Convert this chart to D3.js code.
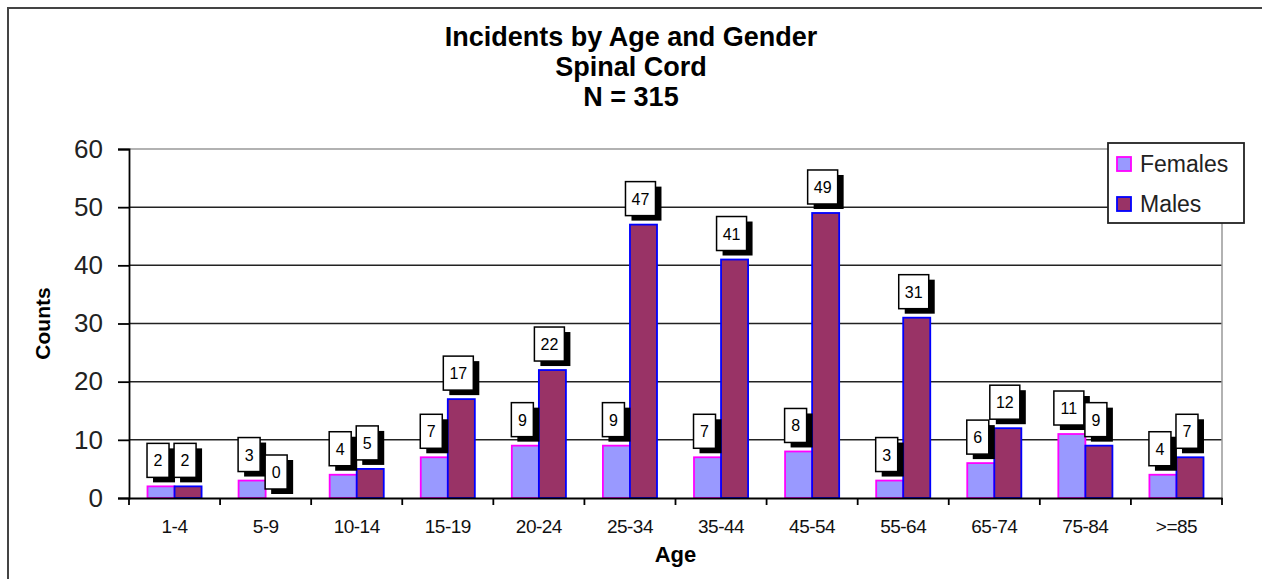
<!DOCTYPE html>
<html>
<head>
<meta charset="utf-8">
<script src="https://cdn.jsdelivr.net/npm/d3@7"></script>
<style>
  body { margin: 0; background: #fff; }
  svg { display: block; font-family: "Liberation Sans", Arial, sans-serif; }
</style>
</head>
<body>
<div id="chart"></div>
<script>
// data
const ageGroups = ["1-4", "5-9", "10-14", "15-19", "20-24", "25-34", "35-44", "45-54", "55-64", "65-74", "75-84", ">=85"];
const females = [2, 3, 4, 7, 9, 9, 7, 8, 3, 6, 11, 4];
const males = [2, 0, 5, 17, 22, 47, 41, 49, 31, 12, 9, 7];
const series = ["Females", "Males"];
const titleLines = ["Incidents by Age and Gender", "Spinal Cord", "N = 315"];
const yTicks = [0, 10, 20, 30, 40, 50, 60];

const W = 1262, H = 579;
const plot = { left: 129, right: 1222, top: 149, bottom: 498 };

const svg = d3.select("#chart").append("svg")
  .attr("width", W)
  .attr("height", H);

// outer chart border (only top and left are visible in the picture)
svg.append("path")
  .attr("d", `M8,${H + 5}V8H${W + 5}`)
  .attr("fill", "none")
  .attr("stroke", "#444")
  .attr("stroke-width", 2);

// title
svg.append("g").selectAll("text")
  .data(titleLines)
  .join("text")
  .attr("x", W / 2)
  .attr("y", (d, i) => 46 + i * 30)
  .attr("text-anchor", "middle")
  .attr("font-weight", "bold")
  .attr("font-size", 27)
  .text(d => d);

// scales
const x = d3.scaleBand().domain(ageGroups).range([plot.left, plot.right]);
const xSub = d3.scaleBand().domain(series).range([18.5, x.bandwidth() - 18.5]);
const y = d3.scaleLinear().domain([0, 60]).range([plot.bottom, plot.top]);
const colors = { Females: "#9999ff", Males: "#993366" };
const strokes = { Females: "#ff00ff", Males: "#0000ff" };

// gridlines
svg.append("g").selectAll("line")
  .data(yTicks.filter(d => d > 0 && d < 60))
  .join("line")
  .attr("x1", plot.left).attr("x2", plot.right)
  .attr("y1", d => y(d)).attr("y2", d => y(d))
  .attr("stroke", "#222")
  .attr("stroke-width", 1.5);

// plot area border top/right (gray)
svg.append("path")
  .attr("d", `M${plot.left},${y(60)}H${plot.right}V${plot.bottom}`)
  .attr("fill", "none")
  .attr("stroke", "#999")
  .attr("stroke-width", 1.5);

// bars
const rows = ageGroups.map((g, i) => ({ group: g, values: [
  { key: "Females", value: females[i] },
  { key: "Males", value: males[i] }
]}));

const groups = svg.append("g").selectAll("g")
  .data(rows)
  .join("g")
  .attr("transform", d => `translate(${x(d.group)},0)`);

groups.selectAll("rect.bar")
  .data(d => d.values.filter(v => v.value > 0))
  .join("rect")
  .attr("class", "bar")
  .attr("x", d => xSub(d.key))
  .attr("y", d => y(d.value))
  .attr("width", xSub.bandwidth())
  .attr("height", d => y(0) - y(d.value))
  .attr("fill", d => colors[d.key])
  .attr("stroke", d => strokes[d.key])
  .attr("stroke-width", 1.8);

// value labels: white boxes with a black drop shadow
const labels = groups.selectAll("g.lbl")
  .data(d => d.values)
  .join("g")
  .attr("class", "lbl")
  .attr("transform", d => {
    const cx = xSub(d.key) + xSub.bandwidth() / 2 - 3;
    return `translate(${cx},${y(d.value) - 9})`;
  });

const boxW = d => (String(d.value).length > 1 ? 30 : 22);
const boxH = 34;

labels.append("rect")
  .attr("x", d => -boxW(d) / 2 + 6)
  .attr("y", -boxH + 5)
  .attr("width", boxW)
  .attr("height", boxH)
  .attr("fill", "#000");

labels.append("rect")
  .attr("x", d => -boxW(d) / 2)
  .attr("y", -boxH)
  .attr("width", boxW)
  .attr("height", boxH)
  .attr("fill", "#fff")
  .attr("stroke", "#000")
  .attr("stroke-width", 1.5);

labels.append("text")
  .attr("x", 0)
  .attr("y", -boxH / 2 + 6)
  .attr("text-anchor", "middle")
  .attr("font-size", 16)
  .text(d => d.value);

// y axis
const yAxis = svg.append("g")
  .attr("transform", `translate(${plot.left},0)`)
  .call(d3.axisLeft(y).tickValues(yTicks).tickSize(11).tickPadding(15));
yAxis.select(".domain").attr("stroke", "#000").attr("stroke-width", 1.8);
yAxis.selectAll(".tick line").attr("stroke", "#000").attr("stroke-width", 1.8);
yAxis.selectAll(".tick text")
  .attr("font-size", 26)
  .attr("font-family", "\"Liberation Sans\", Arial, sans-serif")
  .attr("fill", "#222");

// x axis: labels centered in bands, tick marks at band boundaries
const xAxis = svg.append("g")
  .attr("transform", `translate(0,${plot.bottom})`)
  .call(d3.axisBottom(x).tickSize(0).tickPadding(22));
xAxis.select(".domain").attr("stroke", "#000").attr("stroke-width", 1.8);
xAxis.selectAll(".tick text")
  .attr("font-size", 19)
  .attr("font-family", "\"Liberation Sans\", Arial, sans-serif")
  .attr("letter-spacing", -0.5)
  .attr("fill", "#111");
xAxis.selectAll("line.bound")
  .data(ageGroups.map(g => x(g)).concat([plot.right]))
  .join("line")
  .attr("class", "bound")
  .attr("x1", d => d).attr("x2", d => d)
  .attr("y1", 0).attr("y2", 7)
  .attr("stroke", "#000")
  .attr("stroke-width", 1.8);

// axis titles
svg.append("text")
  .attr("transform", `translate(50,${(plot.top + plot.bottom) / 2}) rotate(-90)`)
  .attr("text-anchor", "middle")
  .attr("font-weight", "bold")
  .attr("font-size", 21)
  .text("Counts");

svg.append("text")
  .attr("x", (plot.left + plot.right) / 2)
  .attr("y", 562)
  .attr("text-anchor", "middle")
  .attr("font-weight", "bold")
  .attr("font-size", 22)
  .text("Age");

// legend
const legend = svg.append("g").attr("transform", "translate(1108,143)");
legend.append("rect")
  .attr("width", 136)
  .attr("height", 80)
  .attr("fill", "#fff")
  .attr("stroke", "#222")
  .attr("stroke-width", 1.8);

const items = legend.selectAll("g.item")
  .data(series)
  .join("g")
  .attr("class", "item")
  .attr("transform", (d, i) => `translate(9,${14 + i * 40})`);

items.append("rect")
  .attr("width", 14)
  .attr("height", 14)
  .attr("fill", d => colors[d])
  .attr("stroke", d => strokes[d])
  .attr("stroke-width", 1.8);

items.append("text")
  .attr("x", 23)
  .attr("y", 15)
  .attr("font-size", 23)
  .attr("fill", "#222")
  .text(d => d);
</script>
</body>
</html>
